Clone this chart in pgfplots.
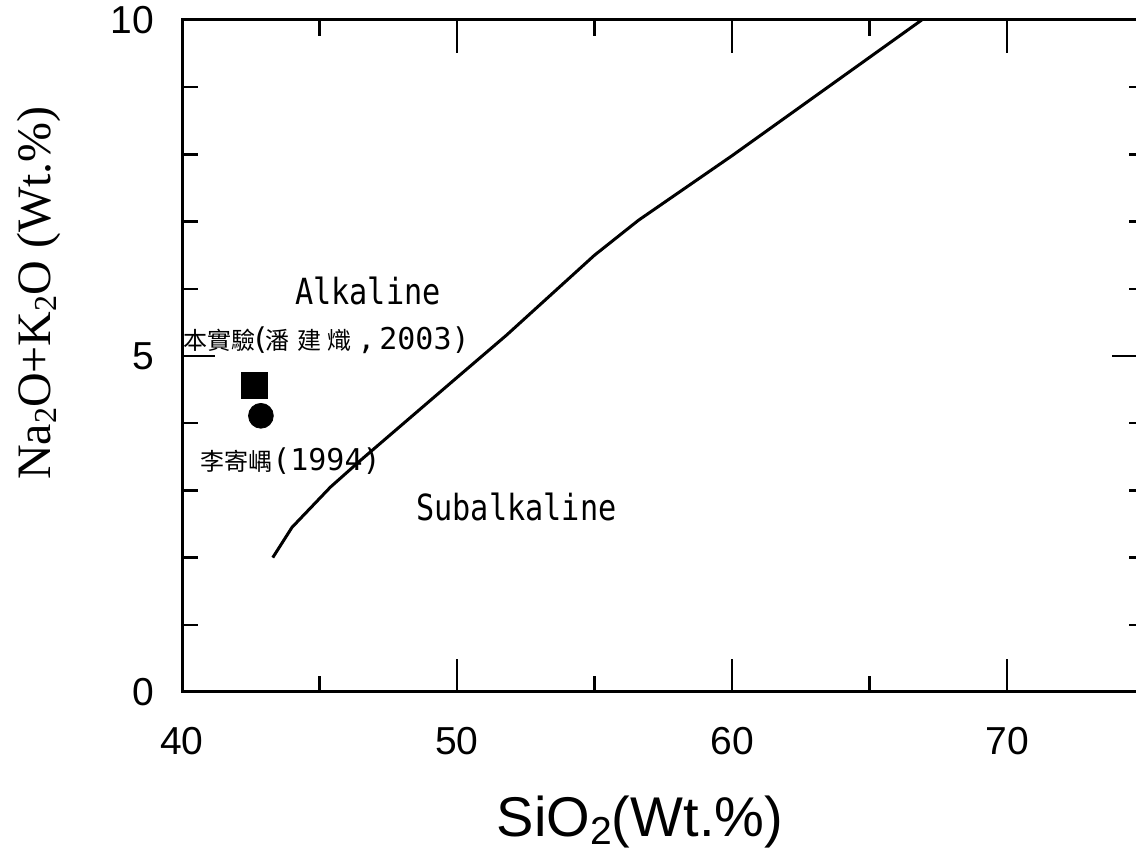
\documentclass[border=0pt]{standalone}
\usepackage{pgfplots}
\pgfplotsset{compat=1.18}
\usepackage{fontspec}
\setmainfont{Liberation Sans}
\newfontfamily\seriffont{Liberation Serif}
\newfontfamily\monofont[FakeStretch=0.84]{DejaVu Sans Mono}
\newfontfamily\labfont{DejaVu Sans Mono}
\newfontfamily\cjk{Noto Sans CJK TC}
\newcommand{\cj}[1]{{\cjk\fontsize{12}{12}\selectfont #1}}

\begin{document}
\begin{tikzpicture}
\begin{axis}[
  at={(91pt,79.5pt)}, anchor=south west,
  scale only axis, width=481.25pt, height=336pt,
  xmin=40, xmax=75, ymin=0, ymax=10,
  xtick={40,50,60,70}, ytick={0,5,10},
  minor xtick={45,55,65}, minor ytick={1,2,3,4,6,7,8,9},
  tick align=inside,
  major tick length=16.5pt, minor tick length=8pt,
  axis line style={line width=1.5pt},
  major tick style={black, line width=1.2pt},
  minor tick style={black, line width=1.2pt},
  /pgf/number format/assume math mode=true,
  tick label style={font=\fontsize{19.5}{19.5}\selectfont},
  xticklabel style={yshift=-14pt},
  yticklabel style={xshift=-10.5pt},
  clip=false,
]
% alkaline / subalkaline dividing curve
\addplot[black, line width=1.5pt] coordinates {
  (43.3,2.00) (44.0,2.45) (45.4,3.05) (46.5,3.45) (50.0,4.68)
  (51.8,5.31) (55.0,6.50) (56.6,7.02) (60.0,7.98) (66.9,10.0)
};
% samples
\addplot[only marks, mark=square*, mark size=6.5pt, black] coordinates {(42.64,4.56)};
\addplot[only marks, mark=*, mark size=6.2pt, black] coordinates {(42.87,4.11)};

\node[font=\monofont\fontsize{18}{18}\selectfont] at (axis cs:46.76,5.96) {Alkaline};
\node[font=\monofont\fontsize{18}{18}\selectfont] at (axis cs:52.16,2.76) {Subalkaline};
\node[anchor=west, inner sep=0pt, font=\labfont\fontsize{15}{15}\selectfont]
  at (axis cs:40.03,5.24)
  {\cj{本實驗}\hspace{-2pt}(\hspace{-2pt}\cj{潘}\hspace{4pt}\cj{建}\hspace{3pt}\cj{熾}\hspace{3pt},\hspace{2pt}2003)};
\node[anchor=west, inner sep=0pt, font=\labfont\fontsize{15}{15}\selectfont]
  at (axis cs:40.65,3.43)
  {\cj{李寄嵎}(1994)};
\end{axis}

% axis titles
\node[anchor=base, font=\fontsize{28}{28}\selectfont] at (320pt,7pt)
  {SiO\raisebox{-4pt}{\fontsize{19.5}{19.5}\selectfont 2}(Wt.\%)};
\node[anchor=base, rotate=90, font=\seriffont\fontsize{24}{24}\selectfont] at (25pt,279pt)
  {Na\raisebox{-3pt}{\fontsize{16}{16}\selectfont 2}O+K\raisebox{-3pt}{\fontsize{16}{16}\selectfont 2}O (Wt.\%)};

\pgfresetboundingbox
\useasboundingbox (0,0) rectangle (568pt,425.5pt);
\end{tikzpicture}
\end{document}
